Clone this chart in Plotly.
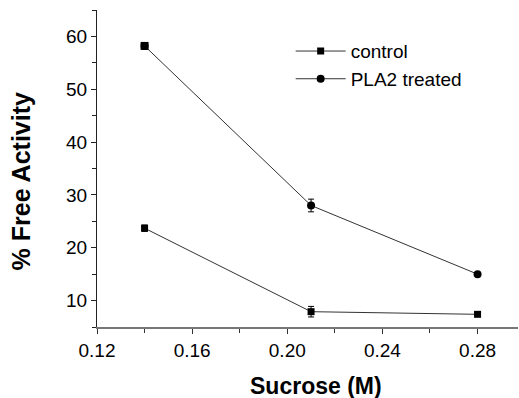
import plotly.graph_objects as go

sucrose = [0.14, 0.21, 0.28]
control = [23.7, 7.9, 7.4]
control_err = [0.6, 1.0, 0.3]
pla2 = [58.2, 28.0, 15.0]
pla2_err = [0.5, 1.2, 0.3]

x_ticks = [0.12, 0.16, 0.20, 0.24, 0.28]
x_ticklabels = ["0.12", "0.16", "0.20", "0.24", "0.28"]
y_ticks = [10, 20, 30, 40, 50, 60]

FONT = "Arial, 'Liberation Sans', sans-serif"
LINE = "#333333"

fig = go.Figure()
fig.add_trace(go.Scatter(
    x=sucrose, y=control, name="control", mode="lines+markers",
    line=dict(color=LINE, width=1),
    marker=dict(symbol="square", size=7, color="black"),
    error_y=dict(type="data", array=control_err, color="black", thickness=1, width=3),
))
fig.add_trace(go.Scatter(
    x=sucrose, y=pla2, name="PLA2 treated", mode="lines+markers",
    line=dict(color=LINE, width=1),
    marker=dict(symbol="circle", size=8, color="black"),
    error_y=dict(type="data", array=pla2_err, color="black", thickness=1, width=3),
))
# first PLA2 point is drawn with a square marker in the original
fig.add_trace(go.Scatter(
    x=sucrose[:1], y=pla2[:1], mode="markers", showlegend=False,
    marker=dict(symbol="square", size=8, color="black"),
))

fig.update_layout(
    width=519, height=398,
    margin=dict(l=97, r=1, t=10, b=71),
    paper_bgcolor="white", plot_bgcolor="white",
    font=dict(family=FONT, size=19, color="black"),
    showlegend=True,
    legend=dict(x=0.46, y=0.93, xanchor="left", yanchor="top",
                bgcolor="rgba(0,0,0,0)", font=dict(size=19),
                itemwidth=50, tracegroupgap=0),
    xaxis=dict(range=[0.12, 0.297], tickvals=x_ticks, ticktext=x_ticklabels,
               showgrid=False, zeroline=False, showline=True,
               linecolor="#777777", linewidth=2,
               ticks="outside", ticklen=5, tickcolor="#333333", tickwidth=1,
               minor=dict(ticks="outside", ticklen=4, dtick=0.02, tickcolor="#333333"),
               tickfont=dict(size=19)),
    yaxis=dict(range=[5, 65], tickvals=y_ticks,
               showgrid=False, zeroline=False, showline=True,
               linecolor="#222222", linewidth=1,
               ticks="outside", ticklen=5, tickcolor="#222222", tickwidth=1,
               minor=dict(ticks="outside", ticklen=4, dtick=5, tickcolor="#222222"),
               tickfont=dict(size=19)),
    annotations=[
        dict(text="<b>Sucrose (M)</b>", xref="paper", yref="paper",
             x=0.52, y=-0.185, xanchor="center", yanchor="middle",
             showarrow=False, font=dict(size=23)),
        dict(text="<b>% Free Activity</b>", xref="paper", yref="paper",
             x=-0.18, y=0.46, xanchor="center", yanchor="middle",
             textangle=-90, showarrow=False, font=dict(size=25)),
    ],
)

fig.write_html("out.html")
